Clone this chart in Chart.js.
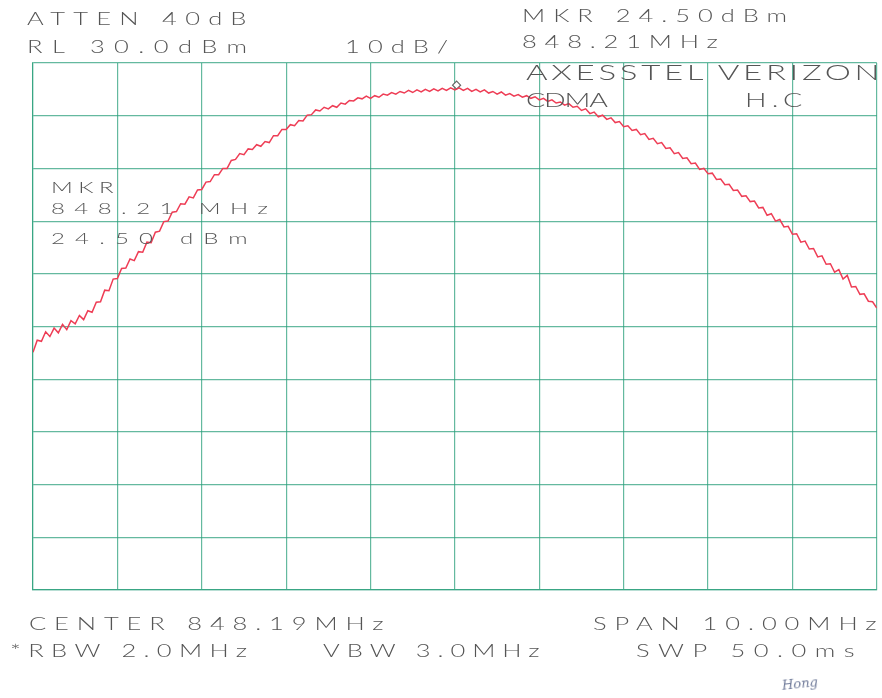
<!DOCTYPE html>
<html>
<head>
<meta charset="utf-8">
<script src="https://cdn.jsdelivr.net/npm/chart.js@4.4.1/dist/chart.umd.min.js"></script>
<style>
  html, body { margin: 0; padding: 0; background: #fff; }
  #wrap { position: relative; width: 882px; height: 698px; overflow: hidden; background: #fff; }
  .lbl { position: absolute; white-space: pre; font-family: Lato, "Liberation Sans", sans-serif;
         font-weight: 300; color: #555; line-height: 1; transform-origin: 0 0; }
  .sig { position: absolute; font-family: "DejaVu Serif", serif; font-style: italic; color: #6f7a99;
         font-size: 13px; transform: rotate(-6deg); }
</style>
</head>
<body>
<div id="wrap">
  <canvas id="c" width="882" height="698"></canvas>
</div>
<script>
// sweep points, MHz (center 848.19, span 10 MHz)
var freqMHz = [
  843.19, 843.24, 843.29, 843.34, 843.39, 843.44, 843.49, 843.54, 843.59, 843.64, 843.69, 843.74, 843.79, 843.84, 843.89, 843.94, 843.99, 844.04, 844.09, 844.14,
  844.19, 844.24, 844.29, 844.34, 844.39, 844.44, 844.49, 844.54, 844.59, 844.64, 844.69, 844.74, 844.79, 844.84, 844.89, 844.94, 844.99, 845.04, 845.09, 845.14,
  845.19, 845.24, 845.29, 845.34, 845.39, 845.44, 845.49, 845.54, 845.59, 845.64, 845.69, 845.74, 845.79, 845.84, 845.89, 845.94, 845.99, 846.04, 846.09, 846.14,
  846.19, 846.24, 846.29, 846.34, 846.39, 846.44, 846.49, 846.54, 846.59, 846.64, 846.69, 846.74, 846.79, 846.84, 846.89, 846.94, 846.99, 847.04, 847.09, 847.14,
  847.19, 847.24, 847.29, 847.34, 847.39, 847.44, 847.49, 847.54, 847.59, 847.64, 847.69, 847.74, 847.79, 847.84, 847.89, 847.94, 847.99, 848.04, 848.09, 848.14,
  848.19, 848.24, 848.29, 848.34, 848.39, 848.44, 848.49, 848.54, 848.59, 848.64, 848.69, 848.74, 848.79, 848.84, 848.89, 848.94, 848.99, 849.04, 849.09, 849.14,
  849.19, 849.24, 849.29, 849.34, 849.39, 849.44, 849.49, 849.54, 849.59, 849.64, 849.69, 849.74, 849.79, 849.84, 849.89, 849.94, 849.99, 850.04, 850.09, 850.14,
  850.19, 850.24, 850.29, 850.34, 850.39, 850.44, 850.49, 850.54, 850.59, 850.64, 850.69, 850.74, 850.79, 850.84, 850.89, 850.94, 850.99, 851.04, 851.09, 851.14,
  851.19, 851.24, 851.29, 851.34, 851.39, 851.44, 851.49, 851.54, 851.59, 851.64, 851.69, 851.74, 851.79, 851.84, 851.89, 851.94, 851.99, 852.04, 852.09, 852.14,
  852.19, 852.24, 852.29, 852.34, 852.39, 852.44, 852.49, 852.54, 852.59, 852.64, 852.69, 852.74, 852.79, 852.84, 852.89, 852.94, 852.99, 853.04, 853.09, 853.14,
  853.19
];

// trace level, dBm (noise included)
var levelDbm = [
  -24.9, -22.6, -22.8, -21.0, -21.9, -20.3, -21.2, -19.6, -20.6, -18.9, -19.5, -17.9, -18.7, -17.0, -17.3, -15.4, -15.3, -13.1, -13.2, -11.0,
  -10.9, -9.0, -8.9, -7.2, -7.5, -5.8, -5.9, -4.0, -4.1, -2.1, -1.9, -0.1, 0.0, 1.7, 1.8, 3.3, 3.2, 4.6, 4.4, 5.9,
  6.0, 7.4, 7.5, 8.8, 8.8, 10.0, 10.0, 11.5, 11.7, 12.8, 12.6, 13.7, 13.6, 14.5, 14.2, 15.1, 14.9, 16.2, 16.2, 17.4,
  17.4, 18.3, 18.1, 19.1, 19.0, 20.1, 20.2, 21.1, 20.9, 21.6, 21.3, 21.9, 21.6, 22.4, 22.2, 22.9, 22.8, 23.4, 23.2, 23.7,
  23.3, 23.8, 23.5, 24.1, 23.9, 24.4, 24.1, 24.6, 24.3, 24.8, 24.4, 24.9, 24.5, 25.0, 24.6, 25.1, 24.7, 25.2, 24.8, 25.3,
  24.9, 25.3, 24.8, 25.2, 24.6, 25.0, 24.5, 24.9, 24.3, 24.6, 24.1, 24.5, 23.9, 24.2, 23.7, 24.0, 23.5, 23.8, 23.3, 23.6,
  23.0, 23.3, 22.7, 23.0, 22.4, 22.6, 22.0, 22.3, 21.6, 21.8, 21.0, 21.3, 20.4, 20.7, 19.8, 20.1, 19.3, 19.6, 18.7, 18.9,
  17.9, 18.1, 17.2, 17.4, 16.4, 16.6, 15.5, 15.7, 14.7, 14.9, 13.8, 13.9, 12.8, 13.0, 11.9, 12.0, 10.9, 11.0, 9.8, 10.0,
  9.0, 9.1, 7.9, 8.0, 6.9, 7.0, 5.8, 5.9, 4.7, 4.8, 3.7, 3.8, 2.5, 2.6, 1.1, 1.4, 0.0, 0.3, -1.1, -1.0,
  -2.5, -2.4, -4.0, -3.8, -5.3, -5.2, -6.8, -6.6, -8.2, -8.1, -9.7, -9.2, -11.0, -10.3, -12.5, -12.4, -13.9, -13.8, -15.2, -15.3,
  -16.5
];

var markerFreq = [848.21];
var markerDbm = [25.8];

var xTicks = [843.19, 844.19, 845.19, 846.19, 847.19, 848.19, 849.19, 850.19, 851.19, 852.19, 853.19];
var yTicks = [-70, -60, -50, -40, -30, -20, -10, 0, 10, 20, 30];

// annotation text: [text, left, cap top, width, font size]
var labels = [
  ["ATTEN 40dB", 27, 12.5, 220, 17],
  ["RL 30.0dBm", 27, 40.5, 220, 17],
  ["10dB/", 345, 41, 103, 17],
  ["MKR 24.50dBm", 522, 9.5, 265, 17],
  ["848.21MHz", 522, 36, 196, 17],
  ["AXESSTEL VERIZON", 526, 65, 354, 22],
  ["CDMA", 526, 93, 82, 19],
  ["H.C", 745, 93, 57, 19],
  ["MKR", 51, 182, 62, 16],
  ["848.21 MHz", 51, 203, 217, 16],
  ["24.50 dBm", 51, 233, 197, 16],
  ["CENTER 848.19MHz", 29, 617.5, 355, 17],
  ["SPAN 10.00MHz", 593, 617.5, 284, 17],
  ["*RBW 2.0MHz", 10, 645, 237, 17],
  ["VBW 3.0MHz", 323, 645, 217, 17],
  ["SWP 50.0ms", 636, 645, 219, 17]
];

var gridColor = 'rgba(40,158,122,0.72)';
var stretch = 1.5; // plotter lettering is wide

var wrap = document.getElementById('wrap');
labels.forEach(function (l) {
  var d = document.createElement('div');
  d.className = 'lbl';
  d.textContent = l[0];
  d.style.fontSize = l[4] + 'px';
  d.style.left = l[1] + 'px';
  d.style.top = (l[2] - 0.167 * l[4]) + 'px';
  wrap.appendChild(d);
  var natural = d.offsetWidth;
  var ls = (l[3] / stretch - natural) / (l[0].length - 1);
  d.style.letterSpacing = ls + 'px';
  d.style.transform = 'scaleX(' + stretch + ')';
});
var sig = document.createElement('div');
sig.className = 'sig';
sig.textContent = 'Hong';
sig.style.left = '782px';
sig.style.top = '676px';
wrap.appendChild(sig);

new Chart(document.getElementById('c'), {
  type: 'line',
  data: {
    datasets: [
      {
        data: freqMHz.map(function (f, i) { return { x: f, y: levelDbm[i] }; }),
        borderColor: '#ee3d55',
        borderWidth: 1.5,
        pointRadius: 0,
        tension: 0
      },
      {
        data: markerFreq.map(function (f, i) { return { x: f, y: markerDbm[i] }; }),
        showLine: false,
        pointStyle: 'rectRot',
        pointRadius: 4,
        pointBorderWidth: 1.2,
        borderColor: '#666',
        backgroundColor: '#fff'
      }
    ]
  },
  options: {
    responsive: false,
    animation: false,
    layout: { padding: { left: 33, top: 63, right: 2, bottom: 108 } },
    plugins: { legend: { display: false }, tooltip: { enabled: false } },
    scales: {
      x: {
        type: 'linear',
        min: xTicks[0],
        max: xTicks[xTicks.length - 1],
        afterBuildTicks: function (s) { s.ticks = xTicks.map(function (v) { return { value: v }; }); },
        afterFit: function (s) { s.height = 0; },
        ticks: { display: false },
        grid: { color: gridColor, lineWidth: 1.2, drawTicks: false },
        border: { color: gridColor, width: 1.2 }
      },
      y: {
        min: yTicks[0],
        max: yTicks[yTicks.length - 1],
        afterBuildTicks: function (s) { s.ticks = yTicks.map(function (v) { return { value: v }; }); },
        afterFit: function (s) { s.width = 0; },
        ticks: { display: false },
        grid: { color: gridColor, lineWidth: 1.2, drawTicks: false },
        border: { color: gridColor, width: 1.2 }
      }
    }
  }
});
</script>
</body>
</html>
